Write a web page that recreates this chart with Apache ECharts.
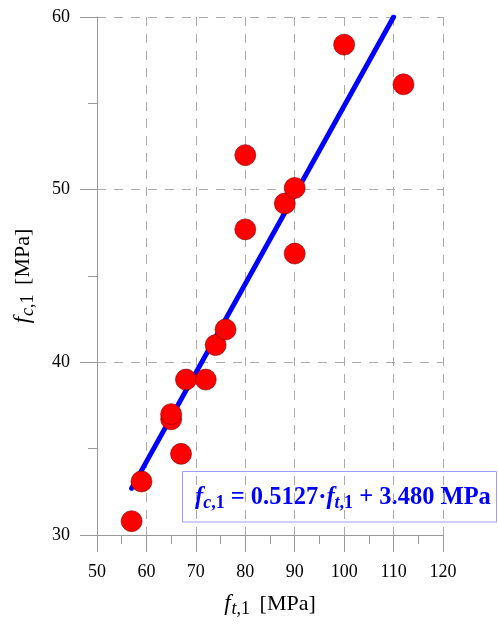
<!DOCTYPE html>
<html>
<head>
<meta charset="utf-8">
<script src="https://cdn.jsdelivr.net/npm/echarts@6/dist/echarts.min.js"></script>
<style>
html,body{margin:0;padding:0;background:#fff;}
#chart{width:498px;height:625px;}
</style>
</head>
<body>
<div id="chart"></div>
<script>
// Measured points: tensile strength f_t,1 [MPa] vs compressive strength f_c,1 [MPa]
const ftValues = [57, 59, 67, 65, 65, 68, 72, 74, 76, 80, 80, 88, 90, 90, 100, 112];
const fcValues = [30.8, 33.1, 34.7, 36.7, 37.0, 39.0, 39.0, 41.0, 41.9, 47.7, 52.0, 49.2, 50.1, 46.3, 58.4, 56.1];
// Fitted line end points
const fitX = [57, 110];
const fitY = [32.7, 60.0];
const xTicks = [50, 60, 70, 80, 90, 100, 110, 120];
const yTicks = [30, 40, 50, 60];
const formulaText = '{fi|f}{si|c}{sb|,1}{b| = 0.5127·}{fi|f}{si|t}{sb|,1}{b| + 3.480 MPa}';

const serif = '"Liberation Serif", "Times New Roman", serif';
const scatterData = ftValues.map((x, i) => [x, fcValues[i]]);
const fitData = fitX.map((x, i) => [x, fitY[i]]);

const axisNameRich = {
  fi: {fontFamily: serif, fontStyle: 'italic', fontSize: 23, lineHeight: 28, color: '#000'},
  si: {fontFamily: serif, fontStyle: 'italic', fontSize: 18, lineHeight: 14, verticalAlign: 'bottom', color: '#000', padding: [0, 0, 0, 1]},
  sn: {fontFamily: serif, fontSize: 18, lineHeight: 14, verticalAlign: 'bottom', color: '#000', padding: [0, 4, 0, 0]},
  n: {fontFamily: serif, fontSize: 22, lineHeight: 28, color: '#000'}
};

const chart = echarts.init(document.getElementById('chart'), null, {renderer: 'canvas'});
const gridLine = {show: true, lineStyle: {color: '#ababab', width: 1, type: [9, 8]}};
chart.setOption({
  animation: false,
  backgroundColor: '#fff',
  grid: {left: 97, right: 55, top: 17, bottom: 90, containLabel: false, outerBoundsMode: 'none'},
  xAxis: {
    type: 'value', min: xTicks[0], max: xTicks[xTicks.length - 1], interval: 10,
    name: '{fi|f}{si|t}{sn|,1}{n| [MPa]}',
    nameLocation: 'middle', nameGap: 55,
    nameTextStyle: {rich: axisNameRich},
    axisLine: {show: true, onZero: false, lineStyle: {color: '#999', width: 1}},
    axisTick: {show: true, length: 17, lineStyle: {color: '#999'}},
    minorTick: {show: true, splitNumber: 2, length: 9, lineStyle: {color: '#999'}},
    axisLabel: {fontFamily: serif, fontSize: 18, color: '#000', margin: 28},
    splitLine: gridLine
  },
  yAxis: {
    type: 'value', min: yTicks[0], max: yTicks[yTicks.length - 1], interval: 10,
    name: '{fi|f}{si|c}{sn|,1}{n| [MPa]}',
    nameLocation: 'middle', nameGap: 60, nameRotate: 90,
    nameTextStyle: {rich: axisNameRich},
    axisLine: {show: true, onZero: false, lineStyle: {color: '#999', width: 1}},
    axisTick: {show: true, length: 17, lineStyle: {color: '#999'}},
    minorTick: {show: true, splitNumber: 2, length: 9, lineStyle: {color: '#999'}},
    axisLabel: {fontFamily: serif, fontSize: 18, color: '#000', margin: 27},
    splitLine: gridLine
  },
  series: [
    {
      type: 'line', data: fitData, symbol: 'none', z: 2,
      lineStyle: {color: '#0000ff', width: 5, cap: 'round'}
    },
    {
      type: 'scatter', data: scatterData, symbol: 'circle', symbolSize: 21, z: 3,
      itemStyle: {color: '#ff0000', borderColor: '#7a0000', borderWidth: 0.6, opacity: 1}
    }
  ],
  graphic: [
    {
      type: 'group', z: 100,
      children: [
        {type: 'rect', shape: {x: 182.5, y: 471.5, width: 314, height: 50.5},
          style: {fill: '#fff', stroke: '#9d9dff', lineWidth: 1}},
        {type: 'text', x: 195, y: 498,
          style: {
            text: formulaText, textVerticalAlign: 'middle', textAlign: 'left',
            rich: {
              fi: {fontFamily: serif, fontStyle: 'italic', fontWeight: 'bold', fontSize: 24.5, lineHeight: 28, fill: '#0000ff', color: '#0000ff'},
              si: {fontFamily: serif, fontStyle: 'italic', fontWeight: 'bold', fontSize: 18, lineHeight: 14, verticalAlign: 'bottom', fill: '#0000ff', color: '#0000ff'},
              sb: {fontFamily: serif, fontWeight: 'bold', fontSize: 18, lineHeight: 14, verticalAlign: 'bottom', fill: '#0000ff', color: '#0000ff'},
              b: {fontFamily: serif, fontWeight: 'bold', fontSize: 24.5, lineHeight: 28, fill: '#0000ff', color: '#0000ff'}
            }
          }}
      ]
    }
  ]
});
</script>
</body>
</html>
